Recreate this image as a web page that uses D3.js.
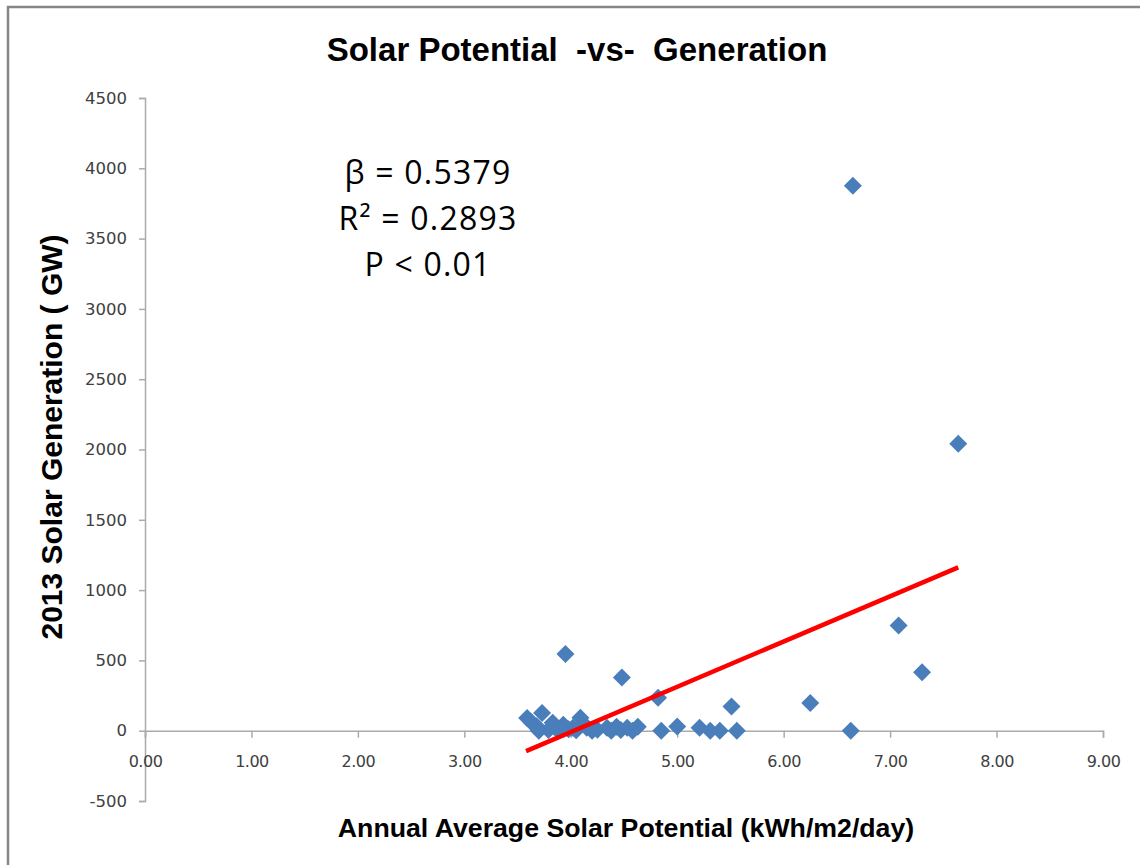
<!DOCTYPE html>
<html>
<head>
<meta charset="utf-8">
<script src="https://cdn.jsdelivr.net/npm/d3@7"></script>
<style>
  html, body { margin: 0; padding: 0; background: #fff; }
  svg { display: block; }
</style>
</head>
<body>
<script>
// ---- data ----
const solarPotential = [3.59, 3.73, 3.68, 3.83, 3.93, 4.09, 4.02, 4.15, 4.25, 4.34, 4.43, 4.53, 4.63,
  4.85, 5.00, 5.21, 5.31, 5.40, 5.56, 5.51, 4.82, 4.48, 3.95, 6.25, 6.63, 7.08, 7.30, 6.65, 7.64,
  3.70, 3.79, 3.88, 3.98, 4.05, 4.12, 4.20, 4.38, 4.47, 4.58, 3.63];
const solarGeneration = [90, 126, 31, 57, 43, 92, 21, 21, 7, 21, 28, 21, 28,
  0, 30, 21, 0, 0, 0, 173, 235, 379, 546, 197, 0, 749, 415, 3876, 2041,
  0, 5, 2, 10, 3, 50, 0, 0, 5, 0, 60];
const trendX = [3.58, 7.64];
const trendY = [-145, 1162];
const xTicks = [0, 1, 2, 3, 4, 5, 6, 7, 8, 9];
const yTicks = [-500, 0, 500, 1000, 1500, 2000, 2500, 3000, 3500, 4000, 4500];
const chartTitle = "Solar Potential  -vs-  Generation";
const xTitle = "Annual Average Solar Potential (kWh/m2/day)";
const yTitle = "2013 Solar Generation ( GW)";
const statLines = ["β = 0.5379", "R² = 0.2893", "P < 0.01"];

// ---- layout ----
const W = 1140, H = 865;
const svg = d3.select("body").append("svg").attr("width", W).attr("height", H);

// outer chart border
svg.append("rect").attr("x", 8).attr("y", 7).attr("width", W + 20).attr("height", H + 20)
  .attr("fill", "#fff").attr("stroke", "#868686").attr("stroke-width", 2.5);

const x = d3.scaleLinear().domain([0, 9]).range([145, 1103]);
const y = d3.scaleLinear().domain([-500, 4500]).range([801, 98]);

const axisColor = "#ABABAB";
const labelFont = "'DejaVu Sans', sans-serif";
const titleFont = "'Liberation Sans', Arial, sans-serif";

// y axis
const yAxis = svg.append("g").attr("transform", `translate(${x(0)},0)`)
  .call(d3.axisLeft(y).tickValues(yTicks).tickSize(6).tickPadding(12).tickFormat(d => String(d)));
yAxis.select(".domain").attr("stroke", axisColor).attr("stroke-width", 1.5);
yAxis.selectAll(".tick line").attr("stroke", axisColor).attr("stroke-width", 1.5);
yAxis.selectAll(".tick text").attr("font-family", labelFont).attr("font-size", 16.5)
  .attr("fill", "#404040");

// x axis at y=0
const xAxis = svg.append("g").attr("transform", `translate(0,${y(0)})`)
  .call(d3.axisBottom(x).tickValues(xTicks).tickSize(7).tickSizeOuter(7).tickPadding(18).tickFormat(d3.format(".2f")));
xAxis.select(".domain").attr("stroke", axisColor).attr("stroke-width", 1.5);
xAxis.selectAll(".tick line").attr("stroke", axisColor).attr("stroke-width", 1.5);
xAxis.selectAll(".tick text").attr("font-family", labelFont).attr("font-size", 16)
  .attr("fill", "#404040").attr("letter-spacing", -0.5);

// points
const diamond = "M0,-9L9,0L0,9L-9,0Z";
svg.append("g").selectAll("path").data(solarPotential.map((v, i) => [v, solarGeneration[i]]))
  .join("path")
  .attr("d", diamond)
  .attr("transform", d => `translate(${x(d[0])},${y(d[1])})`)
  .attr("fill", "#4A7EBB");

// trend line
svg.append("path")
  .datum(trendX.map((v, i) => [v, trendY[i]]))
  .attr("d", d3.line().x(d => x(d[0])).y(d => y(d[1])))
  .attr("stroke", "#FF0000").attr("stroke-width", 4.5).attr("fill", "none");

// chart title
svg.append("text").attr("x", 577).attr("y", 61).attr("text-anchor", "middle")
  .attr("font-family", titleFont).attr("font-weight", "bold").attr("font-size", 33)
  .style("white-space", "pre").attr("fill", "#000").text(chartTitle);

// x axis title
svg.append("text").attr("x", 626).attr("y", 837).attr("text-anchor", "middle")
  .attr("font-family", titleFont).attr("font-weight", "bold").attr("font-size", 26.7)
  .attr("fill", "#000").text(xTitle);

// y axis title
svg.append("text").attr("transform", "translate(62,437) rotate(-90)").attr("text-anchor", "middle")
  .attr("font-family", titleFont).attr("font-weight", "bold").attr("font-size", 30)
  .style("white-space", "pre").attr("fill", "#000").text(yTitle);

// stats annotation
svg.append("g").selectAll("text").data(statLines).join("text")
  .attr("x", 428).attr("y", (d, i) => 184 + i * 46)
  .attr("text-anchor", "middle")
  .attr("font-family", "'Open Sans', sans-serif").attr("font-size", 32)
  .attr("letter-spacing", 1.2)
  .attr("fill", "#000").text(d => d);
</script>
</body>
</html>
